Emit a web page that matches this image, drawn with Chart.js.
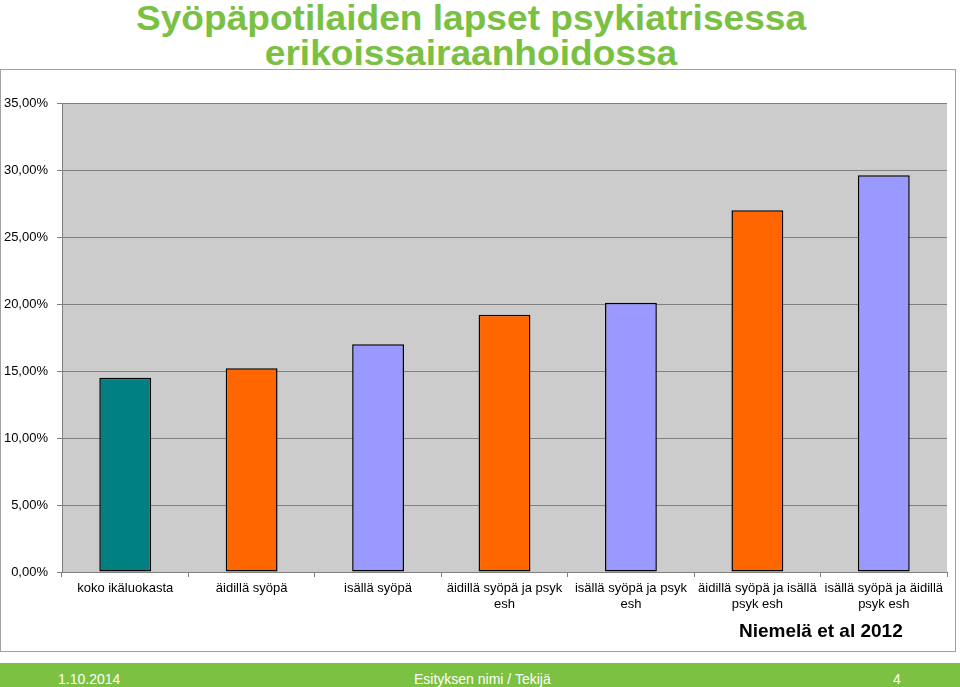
<!DOCTYPE html>
<html>
<head>
<meta charset="utf-8">
<script src="https://cdn.jsdelivr.net/npm/chart.js@4"></script>
<style>
  html, body { margin: 0; padding: 0; background: #fff; }
  body { width: 960px; height: 687px; position: relative; overflow: hidden; font-family: "Liberation Sans", Arial, sans-serif; }
  #title { position: absolute; left: 0; width: 942px; top: 0; text-align: center; color: #7AC143; font-weight: bold; font-size: 35px; line-height: 35px; transform: scaleX(1.06); transform-origin: 471px 0; }
  #frame { position: absolute; left: 0; top: 69px; width: 956px; height: 583px; border: 1px solid #a0a0a0; box-sizing: border-box; }
  #wrap { position: absolute; left: 0; top: 69px; width: 957px; height: 584px; }
  #cite { position: absolute; left: 739px; top: 620px; font-weight: bold; font-size: 19px; color: #000; }
  #footer { position: absolute; left: 0; top: 663px; width: 960px; height: 24px; background: #7DC142; color: #fff; font-size: 14px; }
  #footer span { position: absolute; top: 8px; }
</style>
</head>
<body>
<div id="title">Syöpäpotilaiden lapset psykiatrisessa<br>erikoissairaanhoidossa</div>
<div id="frame"></div>
<div id="wrap"><canvas id="chart" width="957" height="584"></canvas></div>
<div id="cite">Niemelä et al 2012</div>
<div id="footer">
  <span style="left:58px">1.10.2014</span>
  <span style="left:414px">Esityksen nimi / Tekijä</span>
  <span style="left:893px">4</span>
</div>
<script>
const categories = [
  ["koko ikäluokasta"],
  ["äidillä syöpä"],
  ["isällä syöpä"],
  ["äidillä syöpä ja psyk", "esh"],
  ["isällä syöpä ja psyk", "esh"],
  ["äidillä syöpä ja isällä", "psyk esh"],
  ["isällä syöpä ja äidillä", "psyk esh"]
];
const values = [14.5, 15.2, 17.0, 19.2, 20.1, 27.0, 29.6];
const barColors = ["#008080", "#FF6600", "#9999FF", "#FF6600", "#9999FF", "#FF6600", "#9999FF"];
const yTicks = [0, 5, 10, 15, 20, 25, 30, 35];

const plotBg = {
  id: "plotBg",
  beforeDraw(chart){
    const a = chart.chartArea, ctx = chart.ctx;
    ctx.save();
    ctx.fillStyle = "#CCCCCC";
    ctx.fillRect(a.left, a.top, a.right - a.left, a.bottom - a.top);
    ctx.restore();
  }
};

const font = { family: "'Liberation Sans', Arial, sans-serif", size: 13 };

new Chart(document.getElementById("chart"), {
  type: "bar",
  data: {
    labels: categories,
    datasets: [{
      data: values,
      backgroundColor: barColors,
      borderColor: "#000",
      borderWidth: 1.5,
      borderSkipped: false,
      categoryPercentage: 1,
      barPercentage: 0.41
    }]
  },
  options: {
    responsive: false,
    animation: false,
    layout: { padding: { top: 34, right: 10, left: 0, bottom: 0 } },
    plugins: { legend: { display: false }, tooltip: { enabled: false } },
    scales: {
      x: {
        grid: { offset: true, drawOnChartArea: false, color: "#808080", tickLength: 5 },
        border: { color: "#808080", width: 1 },
        ticks: { color: "#000", font: font, padding: 4, maxRotation: 0, autoSkip: false },
        afterFit(s){ s.height = 81; }
      },
      y: {
        min: 0, max: 35,
        afterBuildTicks(s){ s.ticks = yTicks.map(v => ({ value: v })); },
        grid: { color: "#808080", tickLength: 5 },
        border: { color: "#808080", width: 1 },
        ticks: {
          color: "#000", font: font, padding: 9,
          callback: v => v.toFixed(2).replace(".", ",") + "%"
        },
        afterFit(s){ s.width = 62; }
      }
    }
  },
  plugins: [plotBg]
});
</script>
</body>
</html>
